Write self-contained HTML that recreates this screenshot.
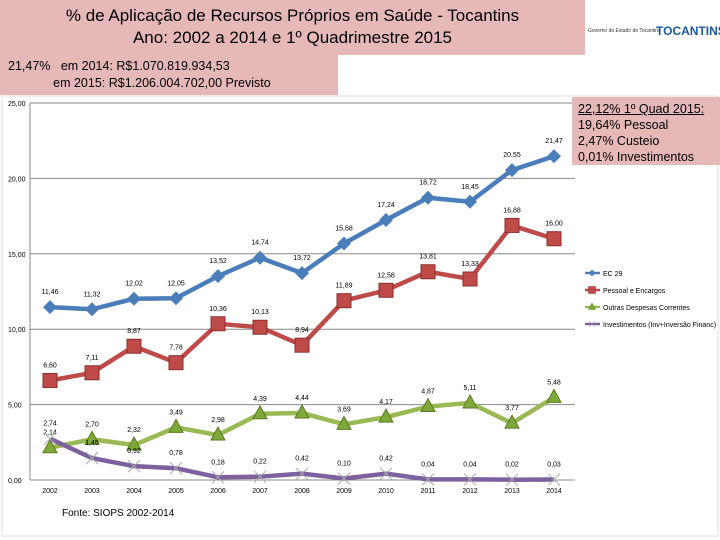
<!DOCTYPE html>
<html><head><meta charset="utf-8"><style>
body{margin:0;width:720px;height:540px;background:#fff;font-family:"Liberation Sans",sans-serif;overflow:hidden;position:relative}
.box{position:absolute;background:#e6b9b8;color:#000}
</style></head><body>
<div class="box" style="left:0;top:0;width:585px;height:55px;text-align:center;font-size:17px;line-height:22px;padding-top:5px;box-sizing:border-box">% de Aplicação de Recursos Próprios em Saúde - Tocantins<br>Ano: 2002 a 2014 e 1º Quadrimestre 2015</div>
<div style="position:absolute;left:588px;top:18px;width:130px;height:30px;color:#333"><span style="position:absolute;left:0;top:10px;font-size:5px">Governo do Estado do Tocantins</span><span style="position:absolute;left:68px;top:6px;font-size:12px;font-weight:bold;color:#1a5aa0">TOCANTINS</span></div>
<div class="box" style="left:0;top:55px;width:338px;height:40px;font-size:12.5px;line-height:17px;padding:3px 0 0 8px;box-sizing:border-box">21,47%&nbsp;&nbsp; em 2014: R$1.070.819.934,53<br>&nbsp;&nbsp;&nbsp;&nbsp;&nbsp;&nbsp;&nbsp;&nbsp;&nbsp;&nbsp;&nbsp;&nbsp;&nbsp;em 2015: R$1.206.004.702,00 Previsto</div>
<svg id="c" width="720" height="540" style="position:absolute;left:0;top:0"></svg>
<div class="box" style="left:572px;top:97px;width:148px;height:68px;font-size:12.5px;line-height:16px;padding:4px 0 0 6px;box-sizing:border-box"><u>22,12% 1º Quad 2015:</u><br>19,64% Pessoal<br>2,47% Custeio<br>0,01% Investimentos</div>
<div style="position:absolute;left:62px;top:508px;font-size:10px">Fonte: SIOPS 2002-2014</div>
<script>
const years=["2002","2003","2004","2005","2006","2007","2008","2009","2010","2011","2012","2013","2014"];
const ec29=[11.46,11.32,12.02,12.05,13.52,14.74,13.72,15.68,17.24,18.72,18.45,20.55,21.47];
const pessoal=[6.60,7.11,8.87,7.78,10.36,10.13,8.94,11.89,12.58,13.81,13.33,16.88,16.00];
const outras=[2.14,2.70,2.32,3.49,2.98,4.39,4.44,3.69,4.17,4.87,5.11,3.77,5.48];
const invest=[2.74,1.45,0.92,0.78,0.18,0.22,0.42,0.10,0.42,0.04,0.04,0.02,0.03];
const yTicks=[0,5,10,15,20,25];
const NS="http://www.w3.org/2000/svg",svg=document.getElementById('c');
const X=i=>50+i*42, Y=v=>480-v*15.08;
function mk(t,a){const e=document.createElementNS(NS,t);for(const k in a)e.setAttribute(k,a[k]);svg.appendChild(e);return e;}
const fr=mk('rect',{x:2,y:96,width:716,height:440,fill:'none',stroke:'#ddd'});


yTicks.forEach(v=>{const l=mk('line',{x1:30,x2:575,y1:Y(v),y2:Y(v),stroke:'#888','stroke-width':1});


const t=mk('text',{x:8,y:Y(v)+3,'font-size':7});t.textContent=v.toFixed(2).replace('.',',');

});
const ax=mk('line',{x1:30,x2:30,y1:Y(25),y2:Y(0),stroke:'#888'});


years.forEach((y,i)=>{const t=mk('text',{x:X(i),y:493,'font-size':7,'text-anchor':'middle'});t.textContent=y;

});
const series=[[ec29,'#4a7ebb','d','EC 29'],[pessoal,'#be4b48','s','Pessoal e Encargos'],[outras,'#98b954','t','Outras Despesas Correntes'],[invest,'#7d60a0','x','Investimentos (Inv+Inversão Financ)']];
function marker(k,x,y,c){let e;
if(k=='d')e=mk('polygon',{points:`${x},${y-7} ${x+7},${y} ${x},${y+7} ${x-7},${y}`,fill:c});
else if(k=='s')e=mk('rect',{x:x-7,y:y-7,width:14,height:14,fill:c,stroke:'#8c2e2b'});
else if(k=='t')e=mk('polygon',{points:`${x},${y-8} ${x+7},${y+5} ${x-7},${y+5}`,fill:'#7fa83a',stroke:'#5a7a20'});
else e=mk('path',{d:`M${x-6},${y-6}L${x+6},${y+6}M${x+6},${y-6}L${x-6},${y+6}`,stroke:'#aaa'});
return e;}
series.forEach(([d,c,k,n],si)=>{
const p=mk('polyline',{points:d.map((v,i)=>X(i)+','+Y(v)).join(' '),fill:'none',stroke:c,'stroke-width':4.5});


d.forEach((v,i)=>{const m=marker(k,X(i),Y(v),c);


const t=mk('text',{x:X(i),y:Y(v)-13,'font-size':7,'text-anchor':'middle'});t.textContent=v.toFixed(2).replace('.',',');

});
const ly=273+si*17;
const ll=mk('line',{x1:585,x2:600,y1:ly,y2:ly,stroke:c,'stroke-width':2.5});


marker(k,592,ly,c).setAttribute('transform',`translate(592 ${ly}) scale(0.5) translate(-592 ${-ly})`);
const lt=mk('text',{x:603,y:ly+3,'font-size':7});lt.textContent=n;


});
</script>
</body></html>
